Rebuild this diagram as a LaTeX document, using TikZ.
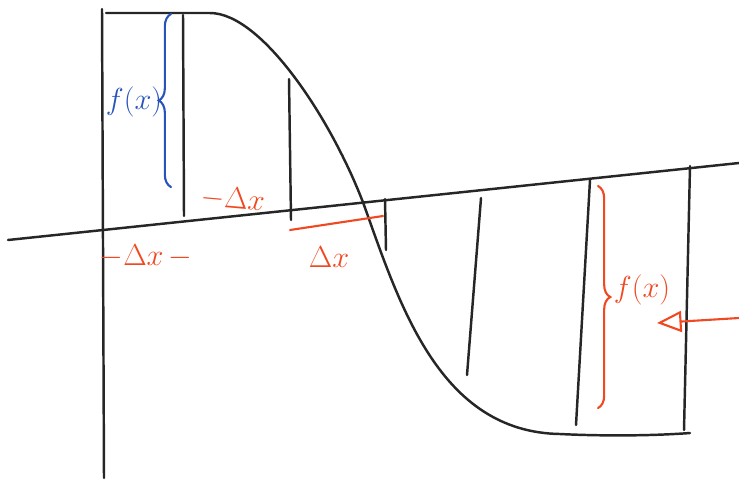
\documentclass[tikz,border=0pt]{standalone}
\usepackage{xcolor}
\usepackage{tikz}
\usetikzlibrary{arrows.meta, positioning, decorations.pathreplacing}

\definecolor{penred}{RGB}{240,72,32}
\definecolor{penblue}{RGB}{40,84,186}

\begin{document}
\begin{tikzpicture}[x=0.02cm, y=-0.02cm,
    ink/.style={draw=black!85, line width=1.4pt, line cap=round, line join=round},
    redink/.style={draw=penred, line width=1.2pt, line cap=round},
    blueink/.style={draw=penblue, line width=1.2pt, line cap=round},
    redlabel/.style={text=penred, font=\LARGE, inner sep=1pt},
    bluelabel/.style={text=penblue, font=\LARGE, inner sep=1pt},
    curlybrace/.style={decorate, decoration={brace, amplitude=7pt}},
    arrow/.style={-{Triangle[open, length=14pt, width=12pt]}, redink}]

\useasboundingbox (0,0) rectangle (739,481);

% axes
\draw[ink] (102,9) -- (104,478);
\draw[ink] (8,240) -- (739,163);

% the curve
\draw[ink] (106,13) -- (210,13) .. controls (262,13) and (332,120) .. (364,205)
    .. controls (400,306) and (440,432) .. (560,434)
    .. controls (600,436) and (650,436) .. (690,433);

% strips under the curve
\draw[ink] (183,15) -- (184,216);
\draw[ink] (289,79) -- (291,220);
\draw[ink] (385,199) -- (386,250);
\draw[ink] (481,198) -- (467,375);
\draw[ink] (590,180) -- (576,425);
\draw[ink] (690,166) -- (684,430);

% left strip
\draw[blueink, curlybrace] (171,187) -- (171,14);
\node[bluelabel] (fleft) at (134,102) {$f(x)$};
\node[redlabel, rotate=-5] (dxtop) at (233,199) {$-\Delta x$};
\node[redlabel] (dxleft) at (146,256) {$-\Delta x\,-$};

% strip past the crossing
\coordinate (segstart) at (290,230);
\coordinate (segend) at (383,216);
\draw[redink] (segstart) -- (segend);
\node[redlabel] (dxmid) at (329,257) {$\Delta x$};

% right strip
\draw[redink, curlybrace] (598,186) -- (598,408);
\node[redlabel] (fright) at (642,290) {$f(x)$};
\coordinate (arrowtail) at (739,318);
\coordinate (arrowtip) at (657,323);
\draw[arrow] (arrowtail) -- (arrowtip);
\end{tikzpicture}
\end{document}
